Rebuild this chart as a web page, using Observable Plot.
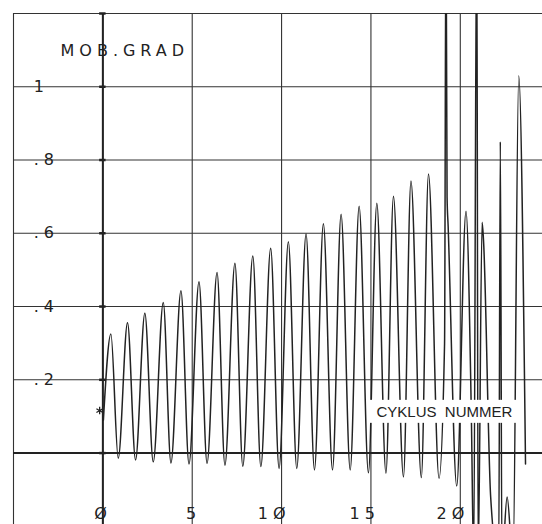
<!DOCTYPE html>
<html>
<head>
<meta charset="utf-8">
<script src="https://cdn.jsdelivr.net/npm/d3@7"></script>
<script src="https://cdn.jsdelivr.net/npm/@observablehq/plot@0.6"></script>
<style>
  html, body { margin: 0; padding: 0; background: #fff; }
  svg { display: block; }
</style>
</head>
<body>
<script>
// Cycle number (x) and mobilized gradient (y), read at peaks and troughs
const cycle = [
  0.03, 0.45, 0.86, 1.38, 1.83, 2.35, 2.82, 3.38, 3.81, 4.37, 4.82,
  5.38, 5.83, 6.39, 6.83, 7.39, 7.83, 8.39, 8.84, 9.39, 9.86,
  10.38, 10.85, 11.37, 11.84, 12.34, 12.85, 13.33, 13.84, 14.34, 14.86,
  15.33, 15.84, 16.26, 16.82, 17.24, 17.82, 18.22, 18.81,
  19.12, 19.2, 19.26, 19.32, 19.8, 20.32, 20.62, 20.75, 20.92, 21.0,
  21.22, 21.3, 21.7, 22.15, 22.24, 22.33, 22.62, 22.95, 23.27, 23.65
];
const mobGrad = [
  0.09, 0.325, -0.014, 0.356, -0.019, 0.382, -0.024, 0.411, -0.027, 0.443, -0.03,
  0.468, -0.028, 0.493, -0.033, 0.518, -0.036, 0.538, -0.037, 0.559, -0.042,
  0.577, -0.042, 0.598, -0.046, 0.626, -0.046, 0.652, -0.046, 0.674, -0.054,
  0.682, -0.055, 0.701, -0.065, 0.743, -0.067, 0.762, -0.069,
  0.3, 1.5, 0.7, 0.62, -0.09, 0.66, 0.1, -0.3, 1.5, -0.3,
  0.63, 0.58, -0.12, -0.3, 0.85, -0.3, -0.12, -0.3, 1.03, -0.03
];
const xGrid = [-5, 0, 5, 10, 15, 20];
const yGrid = [0, 0.2, 0.4, 0.6, 0.8, 1, 1.2];
const xTickValues = [0, 5, 10, 15, 20];
const xTickLabels = ["Ø", "5", "1Ø", "15", "2Ø"];
const yTickValues = [0.2, 0.4, 0.6, 0.8, 1];
const yTickLabels = [".2", ".4", ".6", ".8", "1"];
const startMark = [{x: -0.18, y: 0.116}];
const yTitle = "MOB.GRAD";
const xTitle = "CYKLUS  NUMMER";

const data = cycle.map((x, i) => ({x, y: mobGrad[i]}));
const xLab = xTickValues.map((v, i) => ({v, t: xTickLabels[i]}));
const yLab = yTickValues.map((v, i) => ({v, t: yTickLabels[i]}));

const plotter = "DejaVu Sans";
const ink = "#222";

const chart = Plot.plot({
  width: 542,
  height: 524,
  marginTop: 13,
  marginLeft: 13,
  marginRight: 0,
  marginBottom: 0,
  x: {domain: [-5, 24.6], axis: null},
  y: {domain: [-0.195, 1.2], axis: null},
  style: {background: "#fff"},
  marks: [
    Plot.ruleX(xGrid, {stroke: "#333", strokeWidth: 1.1}),
    Plot.ruleY(yGrid, {stroke: "#333", strokeWidth: 1.1}),
    Plot.ruleX([0], {stroke: ink, strokeWidth: 2}),
    Plot.ruleY([0], {stroke: ink, strokeWidth: 2}),
    Plot.ruleY(yGrid, {x1: -0.18, x2: 0.18, stroke: ink, strokeWidth: 2.5}),
    Plot.line(data, {x: "x", y: "y", curve: "monotone-x", stroke: ink, strokeWidth: 1.5, clip: true}),
    Plot.dot(startMark, {x: "x", y: "y", symbol: "asterisk", r: 3.5, stroke: ink, strokeWidth: 1.3}),
    Plot.text(yLab, {x: -3.87, y: "v", text: "t", textAnchor: "start", fontFamily: plotter, fontSize: 16, fill: ink}),
    Plot.text(xLab, {x: "v", y: -0.166, text: "t", textAnchor: "end", dx: 9, fontFamily: plotter, fontSize: 16, fill: ink}),
    Plot.text([yTitle], {x: -2.37, y: 1.099, text: d => d, textAnchor: "start", fontFamily: plotter, fontSize: 16, fill: ink}),
    Plot.text([xTitle], {x: 15.31, y: 0.112, text: d => d, textAnchor: "start", fontFamily: "Liberation Sans", fontSize: 15, fill: ink})
  ]
});
document.body.appendChild(chart);

// plotter-style wide letter spacing for the axis texts
chart.querySelectorAll("text").forEach(t => {
  const s = t.textContent;
  if (s === yTitle) t.style.letterSpacing = "5px";
  else if (s !== xTitle) t.style.letterSpacing = "5px";
});
// white box behind the x title
chart.querySelectorAll("text").forEach(t => {
  if (t.textContent === xTitle) {
    const b = t.getBBox();
    const r = document.createElementNS("http://www.w3.org/2000/svg", "rect");
    r.setAttribute("x", b.x - 7);
    r.setAttribute("y", b.y - 3);
    r.setAttribute("width", b.width + 14);
    r.setAttribute("height", b.height + 6);
    r.setAttribute("fill", "#fff");
    const tr = t.getAttribute("transform");
    if (tr) r.setAttribute("transform", tr);
    t.parentNode.insertBefore(r, t);
  }
});
</script>
</body>
</html>
